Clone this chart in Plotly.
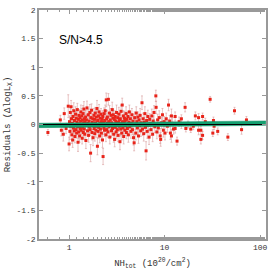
import plotly.graph_objects as go

# (NH_tot [1e20 cm^-2], residual dlogLx, error)
measurements = [
    (0.60, -0.14, 0.05), (0.81, 0.08, 0.08), (0.83, -0.10, 0.10), (0.87, -0.17, 0.12),
    (0.89, 0.19, 0.10), (0.93, -0.07, 0.09), (0.98, 0.32, 0.20), (1.00, -0.34, 0.12),
    (1.01, 0.05, 0.10), (1.02, -0.12, 0.14), (1.03, 0.21, 0.09), (1.04, -0.03, 0.12),
    (1.05, 0.31, 0.11), (1.06, 0.10, 0.08), (1.07, -0.18, 0.15), (1.08, 0.02, 0.10),
    (1.09, -0.27, 0.13), (1.10, 0.14, 0.12), (1.11, -0.06, 0.09), (1.12, 0.24, 0.14),
    (1.13, -0.11, 0.10), (1.14, 0.07, 0.16), (1.15, -0.21, 0.11), (1.16, 0.00, 0.08),
    (1.17, 0.18, 0.13), (1.18, -0.09, 0.10), (1.19, 0.11, 0.12), (1.20, -0.15, 0.09),
    (1.21, 0.04, 0.14), (1.22, 0.26, 0.11), (1.23, -0.04, 0.10), (1.24, -0.31, 0.16),
    (1.25, 0.09, 0.08), (1.26, -0.13, 0.12), (1.27, 0.16, 0.10), (1.28, 0.01, 0.13),
    (1.29, -0.20, 0.11), (1.30, 0.12, 0.09), (1.31, -0.07, 0.14), (1.32, 0.06, 0.10),
    (1.33, 0.22, 0.12), (1.34, -0.10, 0.08), (1.35, -0.02, 0.11), (1.36, 0.15, 0.13),
    (1.37, -0.24, 0.10), (1.38, 0.08, 0.12), (1.39, -0.05, 0.09), (1.40, 0.19, 0.14),
    (1.41, -0.14, 0.11), (1.42, 0.03, 0.10), (1.43, 0.27, 0.13), (1.44, -0.08, 0.09),
    (1.45, 0.10, 0.12), (1.46, -0.17, 0.10), (1.47, 0.05, 0.11), (1.48, -0.01, 0.08),
    (1.49, 0.13, 0.12), (1.50, -0.28, 0.14),
    (1.52, 0.08, 0.10), (1.54, 0.29, 0.12), (1.56, -0.11, 0.09), (1.57, 0.02, 0.13),
    (1.59, 0.17, 0.10), (1.60, -0.19, 0.12), (1.62, 0.06, 0.08), (1.63, -0.04, 0.11),
    (1.65, 0.21, 0.14), (1.66, -0.09, 0.10), (1.68, -0.50, 0.15), (1.69, 0.12, 0.09),
    (1.71, -0.02, 0.12), (1.72, 0.25, 0.11), (1.74, -0.14, 0.13), (1.75, 0.04, 0.08),
    (1.77, 0.10, 0.10), (1.78, -0.23, 0.14), (1.80, 0.00, 0.09), (1.82, 0.16, 0.12),
    (1.83, -0.07, 0.10), (1.85, 0.09, 0.11), (1.86, -0.16, 0.13), (1.88, 0.20, 0.10),
    (1.89, 0.03, 0.08), (1.91, -0.10, 0.12), (1.93, 0.13, 0.11), (1.94, -0.03, 0.09),
    (1.96, 0.28, 0.14), (1.98, -0.38, 0.15), (1.99, 0.07, 0.10), (2.01, -0.12, 0.12),
    (2.03, 0.15, 0.09), (2.04, -0.05, 0.11), (2.06, 0.22, 0.13), (2.08, 0.01, 0.10),
    (2.09, -0.20, 0.12), (2.11, 0.11, 0.08), (2.13, -0.08, 0.11), (2.15, 0.05, 0.14),
    (2.16, 0.18, 0.10), (2.18, -0.15, 0.12), (2.20, 0.00, 0.09), (2.22, 0.09, 0.11),
    (2.24, -0.27, 0.13), (2.25, 0.14, 0.10), (2.27, -0.56, 0.14), (2.29, 0.04, 0.09),
    (2.31, -0.06, 0.12), (2.33, 0.19, 0.10), (2.35, -0.10, 0.11), (2.37, 0.07, 0.13),
    (2.39, 0.24, 0.10), (2.41, -0.02, 0.08), (2.43, -0.18, 0.12), (2.45, 0.43, 0.12),
    (2.47, 0.10, 0.10), (2.48, -0.09, 0.11), (2.50, 0.02, 0.09),
    (2.52, 0.13, 0.12), (2.55, -0.13, 0.10), (2.58, 0.44, 0.10), (2.60, 0.05, 0.11),
    (2.62, -0.04, 0.09), (2.65, 0.20, 0.13), (2.67, -0.22, 0.12), (2.70, 0.08, 0.10),
    (2.72, -0.01, 0.08), (2.75, 0.16, 0.12), (2.78, -0.11, 0.11), (2.80, 0.03, 0.10),
    (2.83, 0.26, 0.13), (2.85, -0.07, 0.09), (2.88, 0.11, 0.12), (2.90, 0.17, 0.10),
    (2.93, -0.17, 0.14), (2.95, 0.00, 0.08), (2.98, 0.09, 0.11), (3.00, -0.26, 0.13),
    (3.03, 0.14, 0.10), (3.05, -0.05, 0.12), (3.08, 0.06, 0.09), (3.11, -0.13, 0.11),
    (3.14, 0.21, 0.13), (3.17, 0.02, 0.10), (3.20, -0.09, 0.12), (3.23, 0.12, 0.08),
    (3.26, -0.19, 0.11), (3.29, 0.04, 0.10), (3.32, 0.18, 0.12), (3.35, -0.03, 0.09),
    (3.38, 0.08, 0.11), (3.41, -0.30, 0.14), (3.44, 0.10, 0.10), (3.47, -0.08, 0.12),
    (3.50, 0.23, 0.11), (3.53, 0.01, 0.09), (3.56, -0.15, 0.12), (3.60, 0.34, 0.12),
    (3.63, 0.05, 0.10), (3.66, -0.06, 0.11), (3.70, 0.15, 0.09), (3.73, -0.21, 0.13),
    (3.77, 0.03, 0.10), (3.80, 0.11, 0.12), (3.84, -0.10, 0.09), (3.87, 0.07, 0.11),
    (3.91, -0.02, 0.10), (3.95, 0.19, 0.12), (3.98, -0.14, 0.11),
    (4.03, 0.09, 0.10), (4.08, -0.07, 0.12), (4.13, 0.14, 0.09), (4.18, -0.18, 0.13),
    (4.23, 0.04, 0.10), (4.28, 0.22, 0.12), (4.33, -0.04, 0.09), (4.38, 0.10, 0.11),
    (4.44, -0.12, 0.12), (4.49, 0.02, 0.10), (4.55, 0.17, 0.11), (4.61, -0.09, 0.09),
    (4.67, 0.06, 0.12), (4.73, -0.23, 0.13), (4.80, -0.32, 0.14), (4.86, 0.12, 0.10),
    (4.92, 0.00, 0.09), (4.99, -0.15, 0.12), (5.05, 0.20, 0.11), (5.12, 0.05, 0.10),
    (5.19, -0.06, 0.12), (5.26, 0.13, 0.09), (5.33, -0.20, 0.13), (5.40, 0.08, 0.10),
    (5.48, -0.02, 0.11), (5.55, 0.16, 0.12), (5.63, -0.11, 0.10), (5.70, 0.03, 0.09),
    (5.80, 0.38, 0.12), (5.88, -0.08, 0.11), (5.96, 0.10, 0.10), (6.05, -0.16, 0.13),
    (6.13, 0.04, 0.09), (6.22, 0.19, 0.12), (6.31, -0.05, 0.10), (6.40, -0.46, 0.16),
    (6.49, 0.07, 0.10), (6.58, -0.12, 0.12), (6.68, 0.14, 0.11), (6.78, -0.01, 0.09),
    (6.88, -0.22, 0.13), (6.98, 0.09, 0.10),
    (7.10, 0.02, 0.11), (7.20, -0.09, 0.10), (7.35, 0.15, 0.12), (7.50, -0.17, 0.13),
    (7.60, 0.06, 0.09), (7.75, 0.21, 0.12), (7.90, -0.04, 0.10), (8.10, 0.50, 0.10),
    (8.15, 0.30, 0.11), (8.30, -0.13, 0.12), (8.45, 0.08, 0.10), (8.60, -0.06, 0.09),
    (8.80, 0.12, 0.12), (9.00, -0.20, 0.13), (9.10, -0.26, 0.12), (9.30, 0.03, 0.10),
    (9.50, 0.17, 0.11), (9.70, -0.10, 0.12), (9.90, 0.05, 0.09), (10.1, -0.15, 0.12),
    (10.4, 0.10, 0.10), (10.7, -0.03, 0.11), (11.0, 0.34, 0.10), (11.3, 0.06, 0.10),
    (11.5, -0.15, 0.11), (11.8, 0.15, 0.12), (11.8, -0.20, 0.11), (12.1, 0.02, 0.10),
    (12.4, -0.08, 0.09),
    (12.9, 0.14, 0.08), (12.9, -0.07, 0.08), (13.5, -0.29, 0.07), (14.2, 0.05, 0.08),
    (15.0, 0.10, 0.07), (15.0, 0.00, 0.07), (16.4, 0.30, 0.08), (16.7, -0.07, 0.06),
    (17.6, 0.00, 0.06), (18.8, -0.08, 0.06), (20.0, -0.03, 0.06), (21.0, 0.15, 0.07),
    (22.7, 0.12, 0.07), (22.7, -0.10, 0.08), (24.0, -0.26, 0.08), (24.0, -0.10, 0.07),
    (25.0, 0.14, 0.06), (25.0, -0.19, 0.07), (26.7, 0.05, 0.06), (30.0, 0.44, 0.05),
    (32.0, -0.15, 0.06), (32.5, 0.07, 0.06), (33.0, -0.03, 0.06), (36.0, -0.12, 0.06),
    (46.0, -0.22, 0.06), (54.0, 0.24, 0.06), (64.0, -0.09, 0.08), (72.0, 0.08, 0.06),
]
nh_tot = [m[0] for m in measurements]
residual = [m[1] for m in measurements]
resid_err = [m[2] for m in measurements]

# fitted relation band (edges)
band_x = [0.48, 115]
band_lo = [-0.055, -0.015]
band_hi = [0.022, 0.062]

y_ticks = [-2, -1.5, -1, -0.5, 0, 0.5, 1, 1.5, 2]
y_tick_text = ["-2", "-1.5", "-1", "-0.5", "0", "0.5", "1", "1.5", "2"]
x_ticks = [1, 10, 100]

mono = "Liberation Mono"
fig = go.Figure()

fig.add_trace(go.Scatter(
    x=nh_tot, y=residual, mode="markers",
    error_y=dict(type="data", array=resid_err, color="rgba(215,150,150,0.55)",
                 thickness=1, width=1),
    marker=dict(color="#e8241a", size=3, symbol="square"),
    showlegend=False, hoverinfo="skip"))

fig.add_trace(go.Scatter(x=band_x, y=band_lo, mode="lines",
                         line=dict(color="#0e8a62", width=0.5), showlegend=False))
fig.add_trace(go.Scatter(x=band_x, y=band_hi, mode="lines", fill="tonexty",
                         fillcolor="#14a070", line=dict(color="#0e8a62", width=0.5),
                         showlegend=False))
fig.add_trace(go.Scatter(x=band_x, y=[0, 0], mode="lines",
                         line=dict(color="black", width=1.2), showlegend=False))

fig.add_annotation(x=-0.13, y=1.48, xref="x", yref="y", text="S/N>4.5",
                   showarrow=False, xanchor="left", yanchor="middle",
                   font=dict(family="Liberation Sans Narrow, Liberation Sans", size=12, color="black"))

axis_common = dict(showline=True, linecolor="#999999", linewidth=1.5, mirror="ticks",
                   ticks="inside", tickcolor="#999999", showgrid=False, zeroline=False,
                   tickfont=dict(family=mono, size=8, color="#333333"))

fig.update_xaxes(type="log", range=[-0.315, 2.062], tickvals=x_ticks,
                 ticktext=["1", "10", "100"], ticklen=4,
                 minor=dict(ticks="inside", ticklen=2, tickcolor="#999999", showgrid=False),
                 title=dict(text="NH<sub>tot</sub> (10<sup>20</sup>/cm<sup>2</sup>)",
                            font=dict(family=mono, size=9, color="#333333"), standoff=8),
                 **axis_common)
fig.update_yaxes(range=[-2, 2], tickvals=y_ticks, ticktext=y_tick_text, ticklen=4,
                 title=dict(text="Residuals (\u0394logL<sub>X</sub>)",
                            font=dict(family=mono, size=9, color="#333333"), standoff=4),
                 **axis_common)

fig.update_layout(width=274, height=273, margin=dict(l=32, r=8, t=6, b=33),
                  plot_bgcolor="white", paper_bgcolor="white")

fig.write_html("out.html", config={"displayModeBar": False},
               post_script="document.body.style.margin='0';document.body.style.overflow='hidden';")
